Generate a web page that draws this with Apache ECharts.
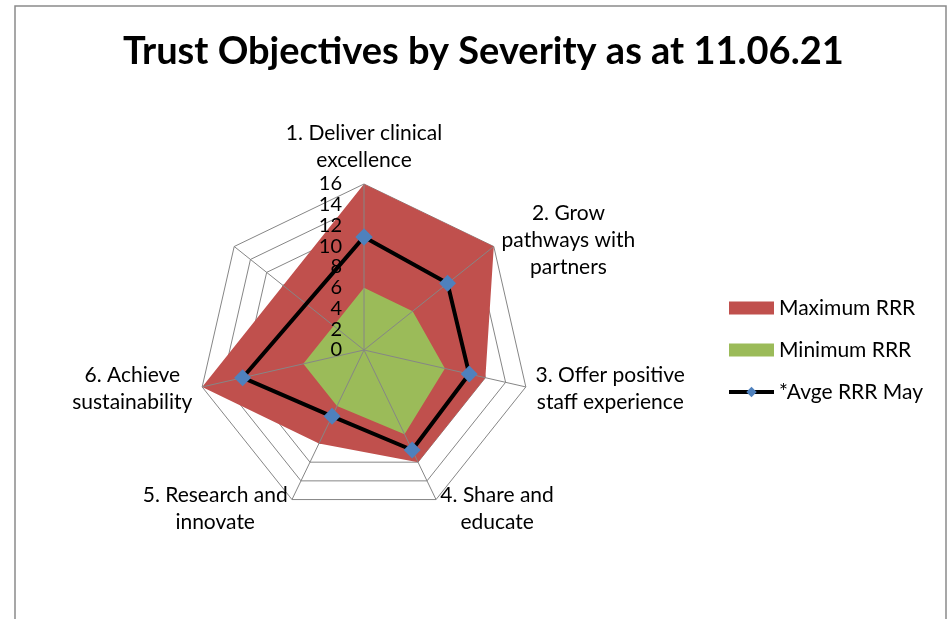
<!DOCTYPE html>
<html lang="en">
<head>
    <meta charset="UTF-8">
    <title>Trust Objectives by Severity</title>
    <script src="https://cdn.jsdelivr.net/npm/echarts@6/dist/echarts.min.js"></script>
    <style>html, body { margin: 0; padding: 0; background: #fff; }</style>
</head>
<body>
    <div id="main" style="width: 948px;height:619px;"></div>
    <script type="text/javascript">
        // 7 spokes, clockwise from the top; the last one has no name
        var categories = [
            '1. Deliver clinical\nexcellence',
            '2. Grow\npathways with\npartners',
            '3. Offer positive\nstaff experience',
            '4. Share and\neducate',
            '5. Research and\ninnovate',
            '6. Achieve\nsustainability',
            ''
        ];
        var seriesNames = ['Maximum RRR', 'Minimum RRR', '*Avge RRR May'];
        var maxRRR = [16, 16, 12, 12, 10, 16];
        var minRRR = [6, 6, 8, 9, 6, 6];
        var avgRRR = [10.9, 10.3, 10.4, 10.7, 7.1, 12];
        var tickLabels = [0, 2, 4, 6, 8, 10, 12, 14, 16];

        var FONT = 'Lato, sans-serif';
        var CX = 364, CY = 350, R = 166;

        var myChart = echarts.init(document.getElementById('main'));

        // radar goes counter clockwise, so reverse everything after the first spoke
        var radarOrder = [0];
        for (var i = categories.length - 1; i > 0; i--) radarOrder.push(i);

        // [radius, spokeIndex], the empty spoke is skipped and the shape closed on the first point
        var toPolar = function (vals) {
            var pts = vals.map(function (v, i) { return [v, i]; });
            pts.push([vals[0], 0]);
            return pts;
        };

        var option = {
            backgroundColor: '#fff',
            title: {
                text: 'Trust Objectives by Severity as at 11.06.21',
                left: 118,
                top: 28,
                textStyle: { fontSize: 38, fontWeight: 'bold', color: '#000', fontFamily: FONT }
            },
            legend: {
                orient: 'vertical',
                left: 722,
                top: 292,
                itemWidth: 45,
                itemHeight: 13,
                itemGap: 20,
                textStyle: { fontSize: 21, color: '#000', fontFamily: FONT, lineHeight: 22 },
                data: [
                    { name: seriesNames[0], icon: 'rect' },
                    { name: seriesNames[1], icon: 'rect' },
                    { name: seriesNames[2], lineStyle: { width: 4 } }
                ]
            },
            radar: {
                center: [CX, CY],
                radius: R,
                startAngle: 90,
                shape: 'polygon',
                splitNumber: 8,
                nameGap: 10,
                indicator: radarOrder.map(function (k) {
                    return { name: categories[k], min: 0, max: tickLabels[tickLabels.length - 1] };
                }),
                axisName: {
                    color: '#000',
                    fontSize: 21,
                    fontFamily: FONT,
                    lineHeight: 27,
                    formatter: function (name) {
                        if (!name) return '';
                        return name.split('\n').map(function (s) { return '{c|' + s + '}'; }).join('\n');
                    },
                    rich: {
                        c: { align: 'center', fontSize: 21, lineHeight: 27, fontFamily: FONT, color: '#000' }
                    }
                },
                splitLine: { lineStyle: { color: '#868686', width: 1 } },
                splitArea: { show: false },
                axisLine: { show: false },
                axisTick: { show: false },
                axisLabel: { show: false }
            },
            // same centre and size as the radar, used for the spokes, the 0-16 labels and the data
            polar: { center: [CX, CY], radius: R },
            angleAxis: {
                type: 'value',
                min: 0,
                max: categories.length,
                interval: 1,
                startAngle: 90,
                clockwise: true,
                z: 3,
                axisLine: { show: false },
                axisTick: { show: false },
                axisLabel: { show: false },
                splitLine: { show: true, lineStyle: { color: '#868686', width: 1 } }
            },
            radiusAxis: {
                type: 'value',
                min: tickLabels[0],
                max: tickLabels[tickLabels.length - 1],
                interval: tickLabels[1] - tickLabels[0],
                z: 3,
                axisLine: { show: false },
                axisTick: { show: false },
                splitLine: { show: false },
                axisLabel: { show: true, color: '#000', fontSize: 20, fontFamily: FONT, margin: 22 }
            },
            series: [
                {
                    name: seriesNames[0],
                    type: 'line',
                    coordinateSystem: 'polar',
                    data: toPolar(maxRRR),
                    symbol: 'none',
                    lineStyle: { width: 0, color: '#C0504D' },
                    itemStyle: { color: '#C0504D' },
                    areaStyle: { color: '#C0504D', opacity: 1 },
                    z: 1,
                    silent: true
                },
                {
                    name: seriesNames[1],
                    type: 'line',
                    coordinateSystem: 'polar',
                    data: toPolar(minRRR),
                    symbol: 'none',
                    lineStyle: { width: 0, color: '#9BBB59' },
                    itemStyle: { color: '#9BBB59' },
                    areaStyle: { color: '#9BBB59', opacity: 1 },
                    z: 2,
                    silent: true
                },
                {
                    name: seriesNames[2],
                    type: 'line',
                    coordinateSystem: 'polar',
                    data: toPolar(avgRRR),
                    symbol: 'diamond',
                    symbolSize: 17,
                    lineStyle: { width: 4, color: '#000' },
                    itemStyle: { color: '#4F81BD' },
                    z: 4,
                    silent: true
                }
            ],
            graphic: [{
                type: 'rect',
                shape: { x: 15, y: 6, width: 931, height: 700 },
                style: { fill: null, stroke: '#8a8a8a', lineWidth: 1.5 },
                silent: true,
                z: -1
            }]
        };

        myChart.setOption(option);
    </script>
</body>
</html>
